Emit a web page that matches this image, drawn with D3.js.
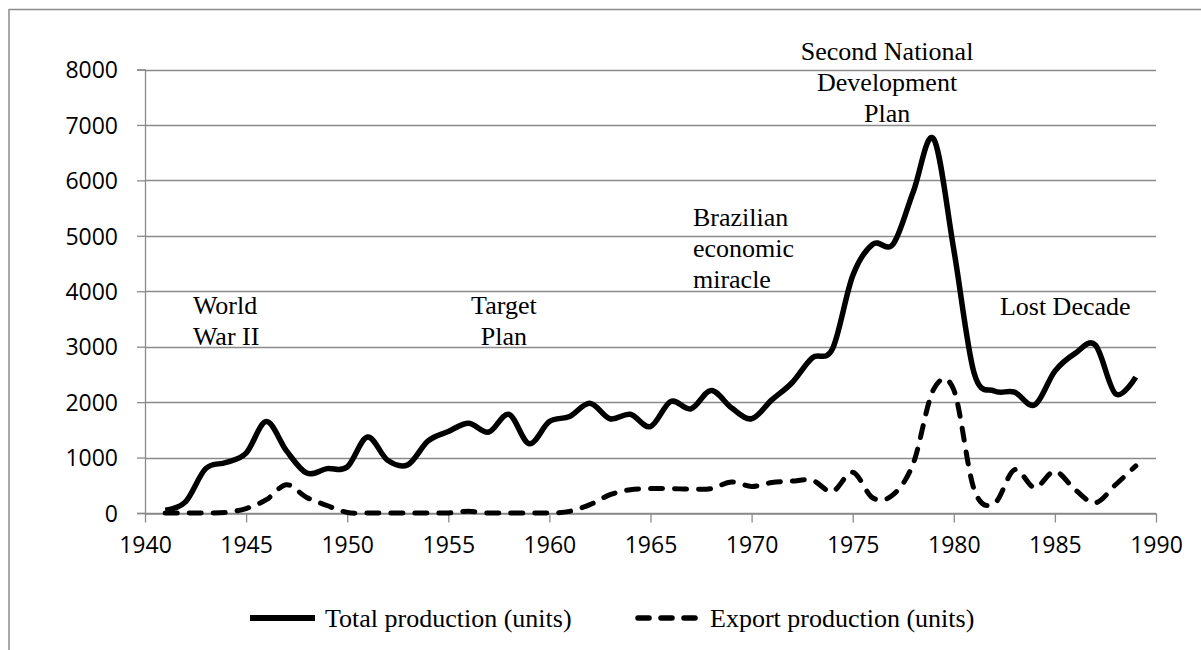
<!DOCTYPE html>
<html><head><meta charset="utf-8">
<script src="https://cdn.jsdelivr.net/npm/d3@7"></script>
<style>
body{margin:0;background:#fff;}
svg{display:block;}
.ax text{font-family:"Open Sans",sans-serif;font-size:23px;fill:#000;}
.serif{font-family:"Liberation Serif","Times New Roman",serif;font-size:26px;fill:#000;}
</style></head>
<body>
<script>
const years = d3.range(1941, 1990);
const totalProduction = [50,200,800,910,1080,1650,1120,720,800,830,1370,950,870,1300,1470,1620,1460,1780,1250,1650,1740,1980,1700,1780,1560,2010,1880,2210,1900,1700,2040,2350,2800,2960,4280,4850,4850,5800,6750,4750,2530,2200,2180,1950,2560,2880,3030,2150,2450];
const exportProduction = [0,0,0,10,80,240,510,280,135,10,0,0,0,0,0,30,0,0,0,0,30,150,330,420,440,440,430,440,560,480,550,575,590,390,735,270,330,900,2230,2220,430,170,780,460,750,420,185,510,850];
const yTicks = [0,1000,2000,3000,4000,5000,6000,7000,8000];
const xTicks = [1940,1945,1950,1955,1960,1965,1970,1975,1980,1985,1990];
const seriesNames = ["Total production (units)","Export production (units)"];
const annotations = [
  {lines:["World","War II"], year:1942.37, value:3590, anchor:"start"},
  {lines:["Target","Plan"], year:1957.75, value:3590, anchor:"middle"},
  {lines:["Brazilian","economic","miracle"], year:1967.1, value:5177, anchor:"start"},
  {lines:["Second National","Development","Plan"], year:1976.7, value:8171, anchor:"middle"},
  {lines:["Lost Decade"], year:1982.28, value:3571, anchor:"start"}
];

const W=1201,H=650;
const svg=d3.select("body").append("svg").attr("width",W).attr("height",H);
// outer border (partially visible)
svg.append("line").attr("x1",9).attr("x2",W).attr("y1",9.5).attr("y2",9.5).attr("stroke","#8c8c8c").attr("stroke-width",1.5);
svg.append("line").attr("x1",9).attr("x2",9).attr("y1",9).attr("y2",H).attr("stroke","#8c8c8c").attr("stroke-width",1.5);

const x=d3.scaleLinear().domain([1940,1990]).range([145,1156]);
const y=d3.scaleLinear().domain([0,8000]).range([513,69.5]);

// gridlines
svg.append("g").selectAll("line").data(yTicks).join("line")
  .attr("x1",x(1940)).attr("x2",x(1990))
  .attr("y1",d=>Math.round(y(d))+0.5).attr("y2",d=>Math.round(y(d))+0.5)
  .attr("stroke","#8a8a8a").attr("stroke-width",1.3);

// y axis
const ya=svg.append("g").attr("class","ax").attr("transform",`translate(${x(1940)},0)`)
  .call(d3.axisLeft(y).tickValues(yTicks).tickSize(8).tickPadding(19).tickFormat(d3.format("d")));
ya.selectAll("path,line").attr("stroke","#8a8a8a").attr("stroke-width",1.3);
ya.selectAll("text").attr("dy","0.36em");
// x axis
const xa=svg.append("g").attr("class","ax").attr("transform",`translate(0,${Math.round(y(0))+0.5})`)
  .call(d3.axisBottom(x).tickValues(xTicks).tickSize(9).tickSizeOuter(0).tickPadding(14).tickFormat(d3.format("d")));
xa.selectAll("path,line").attr("stroke","#8a8a8a").attr("stroke-width",1.3);

const line=d3.line().x((d,i)=>x(years[i])).y(d=>y(d)).curve(d3.curveCardinal.tension(0));
svg.append("path").datum(exportProduction).attr("d",line).attr("fill","none")
  .attr("stroke","#000").attr("stroke-width",5).attr("stroke-dasharray","12,12").attr("stroke-linecap","round");
svg.append("path").datum(totalProduction).attr("d",line).attr("fill","none")
  .attr("stroke","#000").attr("stroke-width",5.5).attr("stroke-linejoin","round");

// annotations
annotations.forEach(a=>{
  const t=svg.append("text").attr("class","serif").attr("text-anchor",a.anchor);
  a.lines.forEach((l,i)=>t.append("tspan").attr("x",x(a.year)).attr("y",y(a.value)+i*31).text(l));
});

// legend
const lg=svg.append("g");
lg.append("line").attr("x1",250).attr("x2",315).attr("y1",618).attr("y2",618).attr("stroke","#000").attr("stroke-width",6);
lg.append("text").attr("class","serif").attr("x",325).attr("y",618).attr("dy","0.33em").text(seriesNames[0]);
lg.append("line").attr("x1",638).attr("x2",697).attr("y1",618).attr("y2",618).attr("stroke","#000").attr("stroke-width",5.5).attr("stroke-dasharray","11,12").attr("stroke-linecap","round");
lg.append("text").attr("class","serif").attr("x",710).attr("y",618).attr("dy","0.33em").text(seriesNames[1]);
</script>
</body></html>
